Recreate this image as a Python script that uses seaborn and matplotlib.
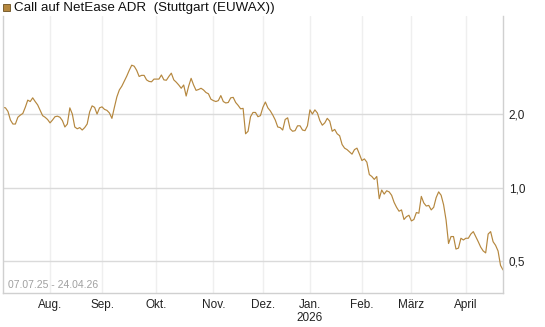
import pandas as pd
import numpy as np
import matplotlib
matplotlib.use("Agg")
import matplotlib.pyplot as plt
import seaborn as sns
from matplotlib.patches import Rectangle

sns.set_theme(style="white")
plt.rcParams['font.family'] = ['Liberation Sans', 'DejaVu Sans']

title = "Call auf NetEase ADR  (Stuttgart (EUWAX))"
date_range_label = "07.07.25 - 24.04.26"
start_date = "2025-07-07"
end_date = "2026-04-24"
holidays = ["2025-12-24", "2025-12-25", "2025-12-26", "2025-12-31",
            "2026-01-01", "2026-04-03", "2026-04-06"]

# closing prices, one per trading day (EUR)
prices = [
    2.13, 2.12, 2.05, 1.89, 1.82, 1.82, 1.94, 1.98, 2.01, 2.13,
    2.28, 2.25, 2.33, 2.25, 2.18, 2.07, 1.97, 1.94, 1.90, 1.84,
    1.89, 1.95, 1.96, 1.94, 1.88, 1.77, 1.82, 2.12, 2.00, 1.77,
    1.74, 1.76, 1.72, 1.76, 1.82, 2.04, 2.16, 2.13, 2.00, 2.12,
    2.14, 2.09, 2.07, 2.02, 1.92, 2.13, 2.35, 2.51, 2.60, 2.73,
    2.86, 3.02, 3.17, 3.14, 3.02, 2.85, 2.88, 2.88, 2.76, 2.72,
    2.71, 2.78, 2.78, 2.78, 2.89, 2.76, 2.75, 2.85, 2.94, 2.76,
    2.70, 2.63, 2.55, 2.63, 2.37, 2.60, 2.80, 2.63, 2.50, 2.52,
    2.55, 2.51, 2.45, 2.42, 2.30, 2.27, 2.25, 2.27, 2.38, 2.25,
    2.22, 2.23, 2.33, 2.34, 2.23, 2.17, 2.10, 2.11, 1.66, 1.70,
    1.95, 2.03, 2.03, 1.95, 1.97, 2.13, 2.24, 2.12, 2.06, 1.98,
    1.89, 1.77, 1.76, 1.72, 1.90, 1.93, 1.74, 1.70, 1.71, 1.79,
    1.79, 1.72, 1.71, 1.79, 2.08, 2.00, 2.08, 2.02, 1.88, 1.80,
    1.84, 1.92, 1.87, 1.70, 1.73, 1.66, 1.63, 1.50, 1.45, 1.43,
    1.40, 1.37, 1.43, 1.45, 1.37, 1.29, 1.31, 1.27, 1.13, 1.11,
    1.08, 1.11, 0.90, 0.977, 0.94, 0.97, 0.96, 0.93, 0.87, 0.83,
    0.80, 0.81, 0.74, 0.76, 0.77, 0.73, 0.74, 0.79, 0.785, 0.92,
    0.865, 0.84, 0.845, 0.81, 0.83, 0.91, 0.96, 0.93, 0.85, 0.736,
    0.59, 0.63, 0.63, 0.56, 0.565, 0.62, 0.61, 0.62, 0.62, 0.645,
    0.66, 0.63, 0.60, 0.57, 0.55, 0.54, 0.645, 0.66, 0.60, 0.58,
    0.55, 0.48, 0.46,
]

month_labels = ["Aug.", "Sep.", "Okt.", "Nov.", "Dez.", "Jan.\n2026",
                "Feb.", "März", "April"]
y_ticks = [0.5, 1.0, 2.0]
y_tick_labels = ["0,5", "1,0", "2,0"]

days = pd.bdate_range(start_date, end_date)
days = days[~days.isin(pd.to_datetime(holidays))]
n = min(len(days), len(prices))
df = pd.DataFrame({"date": days[:n], "price": prices[:n]})
df["idx"] = np.arange(n)

# first trading day of each month after the start
month_key = df["date"].dt.to_period("M")
first_idx = df.groupby(month_key)["idx"].min().values[1:]

line_color = "#b5873e"
grid_h = "#dadada"
grid_v = "#efefef"

fig = plt.figure(figsize=(5.45, 3.27), dpi=100)
ax = fig.add_axes([3 / 545, 34 / 327, 500 / 545, 277 / 327])

sns.lineplot(data=df, x="idx", y="price", ax=ax, color=line_color, linewidth=0.85)

ax.set_yscale("log")
ax.set_ylim(0.370, 5.04)
ax.set_xlim(0, n - 1)

ax.yaxis.tick_right()
ax.set_yticks(y_ticks)
ax.set_yticklabels(y_tick_labels)
ax.yaxis.set_minor_locator(matplotlib.ticker.NullLocator())
ax.set_xticks(first_idx)
ax.set_xticklabels(month_labels[:len(first_idx)])
ax.tick_params(axis="y", length=0, pad=4, labelsize=8.5, colors="#222222")
ax.tick_params(axis="x", length=3, width=0.8, pad=1, labelsize=8.5)
ax.tick_params(axis="x", colors="#222222", color="#dddddd")

ax.grid(axis="y", color=grid_h, linewidth=1)
ax.grid(axis="x", color=grid_v, linewidth=1)
ax.set_axisbelow(True)
ax.set_xlabel("")
ax.set_ylabel("")

for side in ["left", "bottom", "right"]:
    ax.spines[side].set_visible(True)
    ax.spines[side].set_color("#d0d0d0")
    ax.spines[side].set_linewidth(1)
ax.spines["top"].set_visible(False)

ax.text(5 / 500, 8 / 277, date_range_label, transform=ax.transAxes,
        fontsize=7.5, color="#a0a0a0", ha="left", va="center")

fig.patches.append(Rectangle((3 / 545, 1 - 11 / 327), 7 / 545, 7 / 327,
                             transform=fig.transFigure, facecolor=line_color,
                             edgecolor="#6b5020", linewidth=0.6))
fig.text(14 / 545, 1 - 7.5 / 327, title, fontsize=9.6, color="#111111",
         ha="left", va="center")

fig.savefig("out.png", dpi=100)
